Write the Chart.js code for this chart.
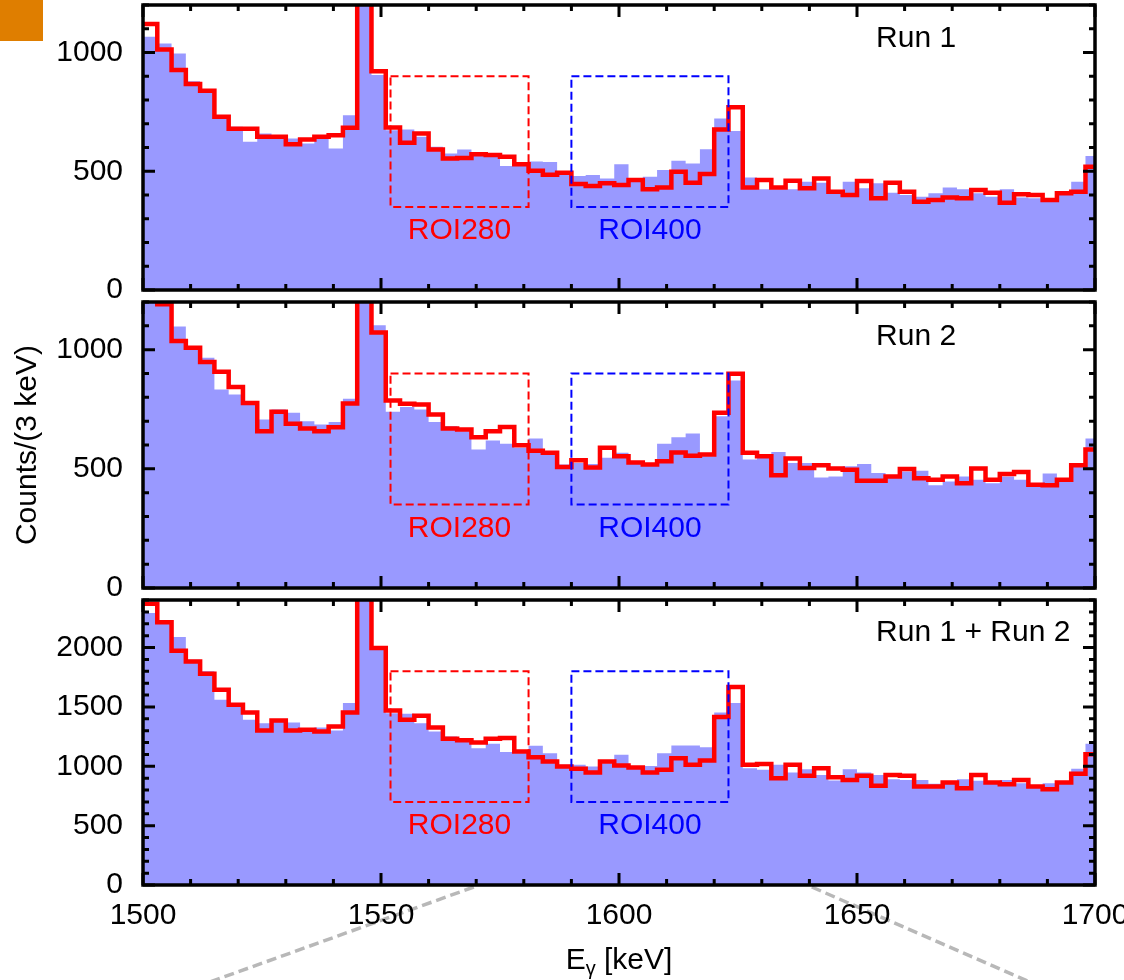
<!DOCTYPE html>
<html>
<head>
<meta charset="utf-8">
<script src="https://cdn.jsdelivr.net/npm/chart.js@4.4.0/dist/chart.umd.min.js"></script>
<style>
html,body{margin:0;padding:0;background:#fff;}
#wrap{position:relative;width:1124px;height:980px;overflow:hidden;background:#fff;}
#wrap canvas{position:absolute;left:0;top:0;}
#badge{position:absolute;left:0;top:0;width:43px;height:41px;background:#DF7E00;}
</style>
</head>
<body>
<div id="wrap">
  <canvas id="p1" width="1124" height="980"></canvas>
  <canvas id="p2" width="1124" height="980"></canvas>
  <canvas id="p3" width="1124" height="980"></canvas>
  <div id="badge"></div>
</div>
<script>
// ---------- data (3 keV bins starting at 1500 keV) ----------
const firstBinKeV = 1500;
const binWidthKeV = 3;

// Run 1
const run1Filled = [1066,1038,996,879,845,735,687,624,659,652,638,617,648,596,736,1400,905,673,676,645,603,575,592,568,566,522,522,541,539,491,480,484,470,530,463,477,505,544,533,593,722,669,474,424,424,424,456,452,407,456,428,449,410,400,393,407,432,424,407,393,424,390,386,382,410,456,564];
const run1Outline = [1120,1013,926,867,839,729,679,679,645,645,614,634,645,652,683,1500,921,684,620,659,592,554,556,572,568,561,529,502,485,494,446,438,449,442,463,424,432,498,452,488,676,769,432,463,432,460,428,470,414,400,459,386,452,414,372,379,389,386,421,410,367,403,400,379,407,414,519];

// Run 2
const run2Filled = [1240,1185,1097,1015,966,833,812,784,707,749,735,700,686,697,794,1400,1102,739,759,749,696,679,658,581,619,605,588,627,562,518,525,520,546,567,532,525,605,633,648,553,721,871,539,562,571,525,525,464,468,511,520,482,464,489,492,431,447,468,454,440,468,454,440,480,454,525,627];
const run2Outline = [1260,1191,1036,1008,948,907,843,776,658,739,689,669,658,675,774,1500,1072,787,773,770,728,669,665,633,658,676,599,576,567,508,536,506,588,553,527,518,532,569,555,560,735,899,567,553,473,543,504,515,501,496,450,450,468,499,461,454,468,440,501,454,478,487,433,431,454,515,581];

// Run 1 + Run 2
const sumFilled = [2291,2226,2088,1897,1799,1560,1532,1391,1363,1377,1369,1321,1327,1301,1532,2900,1990,1447,1442,1363,1293,1251,1237,1152,1189,1119,1110,1172,1110,1012,1012,998,1026,1096,1003,1003,1110,1175,1175,1161,1453,1532,984,970,1012,947,975,927,880,975,947,927,891,885,885,852,871,891,877,871,885,857,843,857,863,978,1189];
const sumOutline = [2369,2212,1973,1883,1779,1644,1518,1453,1301,1386,1301,1307,1293,1335,1453,3000,1995,1470,1391,1425,1327,1231,1220,1200,1231,1237,1124,1076,1040,998,978,947,1040,1006,989,947,970,1068,1012,1048,1414,1667,1012,1020,899,1012,919,984,908,885,919,835,927,919,829,829,863,815,927,863,849,885,829,807,863,936,1102];

const panelTitles = ['Run 1', 'Run 2', 'Run 1 + Run 2'];
const yAxisMax = [1200, 1200, 2400];
const yTickLabels = [[0, 500, 1000], [0, 500, 1000], [0, 500, 1000, 1500, 2000]];
const xTickLabels = [1500, 1550, 1600, 1650, 1700];
const roiNames = ['ROI280', 'ROI400'];
const roiRangesKeV = [[1552, 1581], [1590, 1623]];
const roiCountRanges = [[350, 900], [350, 900], [700, 1800]];
const titleAnchorY = [1060, 1056, 2125];
const titleAnchorKeV = 1654;

// ---------- helpers ----------
const FONT = '"Liberation Sans", Arial, Helvetica, sans-serif';
const FSIZE = 30;
const RED = '#ff0000';
const BLUE_FILL = 'rgb(153,153,255)';
const ROI_COLORS = ['#ff0000', '#0000ff'];

function binPoints(values) {
  const pts = values.map((v, i) => ({x: firstBinKeV + binWidthKeV * i, y: v}));
  pts.push({x: firstBinKeV + binWidthKeV * values.length, y: values[values.length - 1]});
  return pts;
}

const framePlugin = {
  id: 'frame',
  beforeDraw(chart, args, opts) {
    if (!opts.zoomLines) return;
    const {ctx, chartArea: a, scales: {x}} = chart;
    ctx.save();
    ctx.strokeStyle = '#b8b8b8';
    ctx.lineWidth = 3.5;
    ctx.setLineDash([10, 5]);
    opts.zoomLines.forEach(z => {
      const x0 = x.getPixelForValue(z.fromKeV);
      ctx.beginPath();
      ctx.moveTo(x0, a.bottom + 2);
      ctx.lineTo(x0 + z.dx, a.bottom + 2 + z.dy);
      ctx.stroke();
    });
    ctx.restore();
  },
  afterDatasetsDraw(chart, args, opts) {
    const {ctx, chartArea: a, scales: {x, y}} = chart;
    ctx.save();
    // ROI boxes + labels
    roiNames.forEach((name, i) => {
      const [k0, k1] = roiRangesKeV[i];
      const [c0, c1] = roiCountRanges[opts.panel];
      const px0 = x.getPixelForValue(k0), px1 = x.getPixelForValue(k1);
      const py0 = y.getPixelForValue(c0), py1 = y.getPixelForValue(c1);
      ctx.strokeStyle = ROI_COLORS[i];
      ctx.lineWidth = 2;
      ctx.setLineDash([8, 4]);
      ctx.strokeRect(px0, py1, px1 - px0, py0 - py1);
      ctx.setLineDash([]);
      ctx.fillStyle = ROI_COLORS[i];
      ctx.font = FSIZE + 'px ' + FONT;
      ctx.textAlign = 'center';
      ctx.textBaseline = 'middle';
      ctx.fillText(name, (px0 + px1) / 2, py0 + 24);
    });
    // panel title
    ctx.fillStyle = '#000';
    ctx.font = FSIZE + 'px ' + FONT;
    ctx.textAlign = 'left';
    ctx.textBaseline = 'middle';
    ctx.fillText(panelTitles[opts.panel], x.getPixelForValue(titleAnchorKeV), y.getPixelForValue(titleAnchorY[opts.panel]));

    // frame
    ctx.strokeStyle = '#000';
    ctx.lineWidth = 3.5;
    ctx.strokeRect(a.left, a.top, a.right - a.left, a.bottom - a.top);
    // ticks (inward)
    ctx.lineWidth = 3;
    ctx.beginPath();
    for (let v = x.min; v <= x.max + 0.001; v += 10) {
      const px = x.getPixelForValue(v);
      const len = (Math.round(v) % 50 === 0) ? 12 : 6;
      ctx.moveTo(px, a.bottom); ctx.lineTo(px, a.bottom - len);
      ctx.moveTo(px, a.top); ctx.lineTo(px, a.top + len);
    }
    for (let v = y.min; v <= y.max + 0.001; v += 100) {
      const py = y.getPixelForValue(v);
      const len = (Math.round(v) % 500 === 0) ? 12 : 6;
      ctx.moveTo(a.left, py); ctx.lineTo(a.left + len, py);
      ctx.moveTo(a.right, py); ctx.lineTo(a.right - len, py);
    }
    ctx.stroke();
    ctx.restore();
  },
  afterDraw(chart, args, opts) {
    if (!opts.xTitle) return;
    const {ctx, chartArea: a} = chart;
    ctx.save();
    ctx.fillStyle = '#000';
    ctx.textBaseline = 'alphabetic';
    ctx.textAlign = 'left';
    const big = FSIZE + 'px ' + FONT, small = '20px ' + FONT;
    ctx.font = big; const wE = ctx.measureText('E').width;
    ctx.font = small; const wG = ctx.measureText('γ').width;
    ctx.font = big; const wR = ctx.measureText(' [keV]').width;
    const total = wE + wG + wR;
    let cx = (a.left + a.right) / 2 - total / 2;
    const base = 969;
    ctx.font = big; ctx.fillText('E', cx, base); cx += wE;
    ctx.font = small; ctx.fillText('γ', cx, base + 6); cx += wG;
    ctx.font = big; ctx.fillText(' [keV]', cx, base);
    ctx.restore();
  }
};

function makePanel(id, panel, filled, outline, layoutPad, showX, yTitle) {
  const tickFont = {family: FONT, size: FSIZE};
  return new Chart(document.getElementById(id), {
    type: 'line',
    data: {
      datasets: [
        {data: binPoints(outline), borderColor: RED, borderWidth: 4.5, stepped: 'before',
         pointRadius: 0, fill: false, clip: 0, borderJoinStyle: 'miter'},
        {data: binPoints(filled), borderColor: 'rgba(0,0,0,0)', borderWidth: 1, backgroundColor: BLUE_FILL,
         fill: 'origin', stepped: 'before', pointRadius: 0, clip: 0}
      ]
    },
    options: {
      responsive: false,
      animation: false,
      events: [],
      layout: {padding: layoutPad},
      plugins: {
        legend: {display: false},
        tooltip: {enabled: false},
        frame: {panel: panel,
                xTitle: showX,
                zoomLines: showX ? [{fromKeV: 1569.5, dx: -264, dy: 95}, {fromKeV: 1640.5, dx: 218, dy: 95}] : null}
      },
      scales: {
        x: {
          type: 'linear', min: firstBinKeV, max: 1700, display: showX,
          grid: {display: false, drawTicks: false}, border: {display: false},
          afterBuildTicks: s => { s.ticks = xTickLabels.map(v => ({value: v})); },
          ticks: {font: tickFont, color: '#000', padding: 13, maxRotation: 0, autoSkip: false,
                  callback: v => String(v)},
          afterFit: s => { s.height = showX ? 95 : 0; s.paddingLeft = 0; s.paddingRight = 0; }
        },
        y: {
          type: 'linear', min: 0, max: yAxisMax[panel],
          grid: {display: false, drawTicks: false}, border: {display: false},
          afterBuildTicks: s => { s.ticks = yTickLabels[panel].map(v => ({value: v})); },
          ticks: {font: tickFont, color: '#000', padding: 20, autoSkip: false,
                  callback: v => String(v)},
          title: {display: !!yTitle, text: yTitle || '', font: {family: FONT, size: FSIZE}, color: '#000',
                  padding: {top: 10, bottom: 0}},
          afterFit: s => { s.width = 143; s.paddingTop = 0; s.paddingBottom = 0; }
        }
      }
    },
    plugins: [framePlugin]
  });
}

makePanel('p1', 0, run1Filled, run1Outline, {left: 0, right: 29, top: 5, bottom: 690}, false, null);
makePanel('p2', 1, run2Filled, run2Outline, {left: 0, right: 29, top: 302, bottom: 392}, false, 'Counts/(3 keV)');
makePanel('p3', 2, sumFilled, sumOutline, {left: 0, right: 29, top: 600, bottom: 0}, true, null);
</script>
</body>
</html>
